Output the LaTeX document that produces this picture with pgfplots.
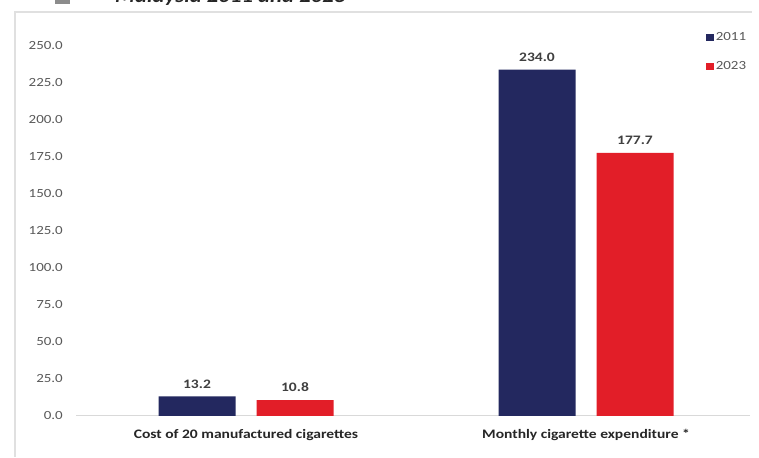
\documentclass[border=0pt]{standalone}
\usepackage{fontspec}
\setmainfont{Carlito}[FakeStretch=1.2]
\usepackage{pgfplots}
\pgfplotsset{compat=1.18}
\definecolor{navy}{HTML}{23285F}
\definecolor{cred}{HTML}{E21E28}
\definecolor{ticktext}{HTML}{595959}
\definecolor{valtext}{HTML}{404040}
\definecolor{cattext}{HTML}{262626}
\begin{document}
\begin{tikzpicture}[x=1bp,y=1bp]
\fill[white] (0,0) rectangle (759,457);
\draw[black!12, line width=1.5bp] (15,0) -- (15,445) -- (752,445);
\begin{scope}
\clip (0,452) rectangle (759,457);
\node[anchor=base west, inner sep=0, font=\bfseries\itshape\fontsize{19}{19}\selectfont, text=black!85] at (115,454) {Malaysia 2011 and 2023};
\fill[black!45] (55,453) rectangle (70,457);
\end{scope}
\begin{axis}[
  at={(76bp,41bp)}, anchor=south west,
  x=340bp, y=1.48bp,
  xmin=-0.5, xmax=1.482, ymin=0, ymax=250,
  clip=false,
  axis x line*=bottom, axis y line*=left,
  y axis line style={draw=none},
  x axis line style={draw=black!15, line width=1bp, -},
  major tick length=0pt,
  ytick={0,25,...,250},
  xtick={0,1},
  xticklabels={Cost of 20 manufactured cigarettes, Monthly cigarette expenditure *},
  /pgf/number format/assume math mode=true,
  y tick label style={/pgf/number format/.cd, fixed, fixed zerofill, precision=1, /tikz/.cd,
    font=\fontsize{12.5}{13}\selectfont, text=ticktext, anchor=east, inner sep=0pt, xshift=-13bp},
  x tick label style={font=\bfseries\fontsize{13}{14}\selectfont, text=cattext, anchor=north, inner sep=0pt, yshift=-13bp},
  ybar, bar width=77bp,
  nodes near coords,
  nodes near coords style={/pgf/number format/.cd, fixed, fixed zerofill, precision=1, /tikz/.cd,
    font=\bfseries\fontsize{13}{14}\selectfont, text=valtext, anchor=south, inner sep=0pt, yshift=8bp},
  legend style={at={(0.935,1.04)}, anchor=north west, draw=none, fill=none,
    font=\fontsize{12.5}{13}\selectfont, text=ticktext, row sep=16bp, inner sep=0pt,
    nodes={inner sep=1.5bp}},
  legend cell align=left,
  legend image code/.code={\fill[#1] (0bp,-3.5bp) rectangle (8bp,3.5bp);},
]
\addplot[fill=navy, draw=none, bar shift=-49bp] coordinates {(0,13.2) (1,234.0)};
\addplot[fill=cred, draw=none, bar shift=49bp] coordinates {(0,10.8) (1,177.7)};
\legend{2011,2023}
\end{axis}
\end{tikzpicture}
\end{document}
